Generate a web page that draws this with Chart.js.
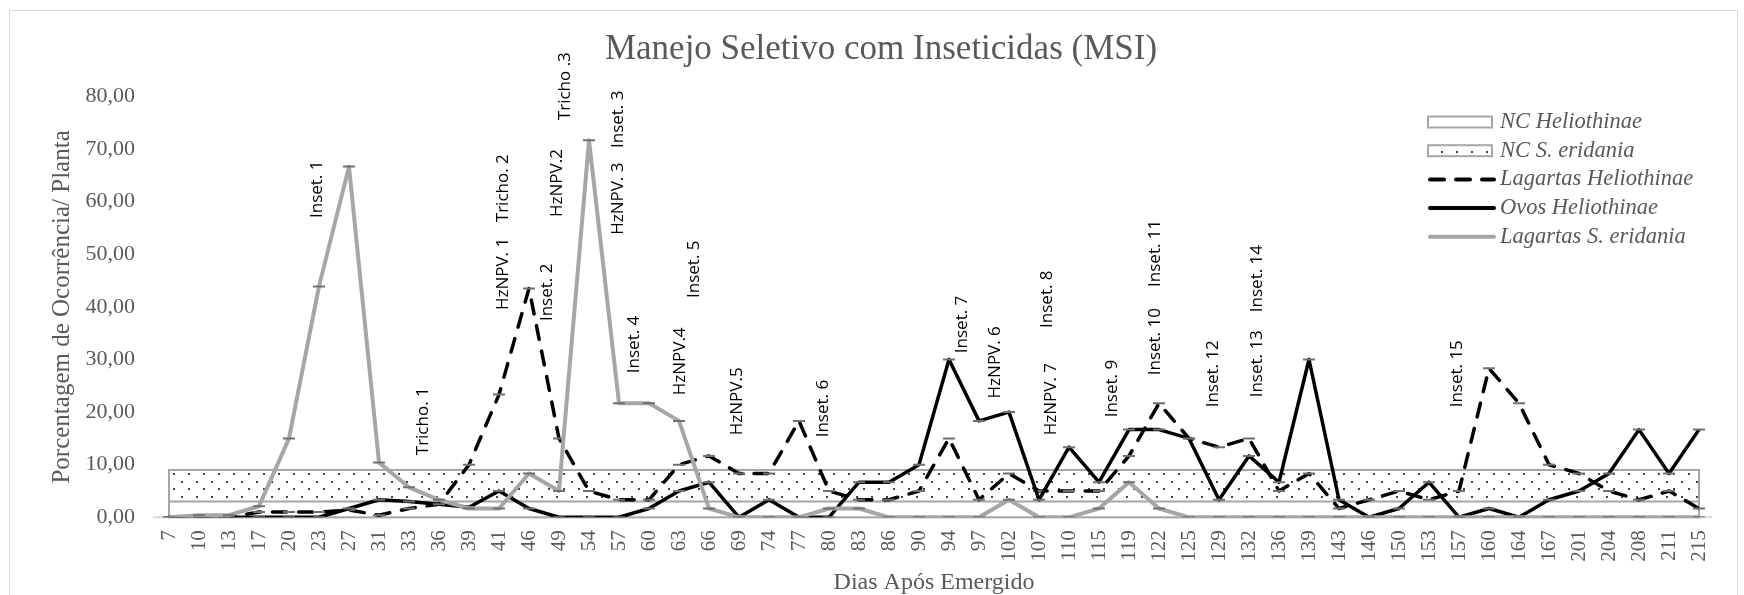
<!DOCTYPE html>
<html lang="pt">

<head>
    <meta charset="UTF-8">
    <title>Manejo Seletivo com Inseticidas (MSI)</title>
    <script src="https://cdn.jsdelivr.net/npm/chart.js"></script>
    <style>
        body {
            margin: 0;
            background: #fff;
        }

        #caixa {
            position: relative;
            width: 1744px;
            height: 595px;
            overflow: hidden;
        }

        #moldura {
            position: absolute;
            left: 9px;
            top: 10px;
            width: 1727px;
            height: 640px;
            border: 1px solid #d9d9d9;
        }

        #grafico {
            position: absolute;
            left: 0;
            top: 0;
        }
    </style>
</head>

<body>
    <div id="caixa">
        <div id="moldura"></div>
        <canvas id="grafico" width="1744" height="595"></canvas>
    </div>

    <script>
        // Dias após emergido (eixo x)
        const dias = ['7', '10', '13', '17', '20', '23', '27', '31', '33', '36', '39', '41', '46', '49', '54', '57',
            '60', '63', '66', '69', '74', '77', '80', '83', '86', '90', '94', '97', '102', '107', '110', '115', '119',
            '122', '125', '129', '132', '136', '139', '143', '146', '150', '153', '157', '160', '164', '167', '201',
            '204', '208', '211', '215'];

        // Nível de controle (faixas)
        const ncHeliothinae = [3, 3, 3, 3, 3, 3, 3, 3, 3, 3, 3, 3, 3, 3, 3, 3, 3, 3, 3, 3, 3, 3, 3, 3, 3, 3,
            3, 3, 3, 3, 3, 3, 3, 3, 3, 3, 3, 3, 3, 3, 3, 3, 3, 3, 3, 3, 3, 3, 3, 3, 3, 3];
        const ncSEridania = [9, 9, 9, 9, 9, 9, 9, 9, 9, 9, 9, 9, 9, 9, 9, 9, 9, 9, 9, 9, 9, 9, 9, 9, 9, 9,
            9, 9, 9, 9, 9, 9, 9, 9, 9, 9, 9, 9, 9, 9, 9, 9, 9, 9, 9, 9, 9, 9, 9, 9, 9, 9];

        // Séries medidas (%)
        const lagartasHeliothinae = [0, 0, 0, 1, 1, 1, 1.4, 0.4, 1.67, 2.5, 10, 23.33, 43.5, 15, 5, 3.33,
            3.33, 10, 11.67, 8.33, 8.33, 18.33, 5, 3.33, 3.33, 5, 15, 3.33, 8.33, 5, 5, 5, 11.67,
            21.67, 15, 13.33, 15, 5, 8.33, 1.67, 3.33, 5, 3.33, 5, 28.33, 21.67, 10, 8.33,
            5, 3.33, 5, 1.67];
        const ovosHeliothinae = [0, 0, 0, 0, 0, 0, 1.67, 3.33, 3, 2.5, 1.9, 5, 1.67, 0, 0, 0,
            1.67, 5, 6.67, 0, 3.33, 0, 0, 6.67, 6.67, 10, 30, 18.33, 20, 3.33, 13.33, 6.67, 16.67,
            16.67, 15, 3.33, 11.67, 6.67, 30, 3.33, 0, 1.67, 6.67, 0, 1.67, 0, 3.33, 5,
            8.33, 16.67, 8.33, 16.67];
        const lagartasSEridania = [0, 0.4, 0.4, 2.1, 15, 43.9, 66.67, 10.4, 5.7, 3.33, 1.67, 1.67, 8.33, 5, 71.67, 21.67,
            21.67, 18.33, 1.67, 0, 0, 0, 1.67, 1.67, 0, 0, 0, 0, 3.33, 0, 0, 1.67, 6.67,
            1.67, 0, 0, 0, 0, 0, 0, 0, 0, 0, 0, 0, 0, 0, 0,
            0, 0, 0, 0];

        // Ticks do eixo y
        const ticksY = [0, 10, 20, 30, 40, 50, 60, 70, 80];

        // Aplicações: texto, posição em dias (índice) e nível (%) onde começa o texto
        const aplicacoes = [
            ['Inset. 1', 4.93, 56.9],
            ['Tricho. 1', 8.48, 11.8],
            ['HzNPV. 1', 11.13, 39.4],
            ['Tricho. 2', 11.13, 56.1],
            ['Inset. 2', 12.59, 37.3],
            ['HzNPV.2', 12.93, 57.1],
            ['Tricho .3', 13.2, 75.5],
            ['HzNPV. 3', 14.97, 53.7],
            ['Inset. 3', 14.97, 70.2],
            ['Inset. 4', 15.5, 27.4],
            ['HzNPV.4', 17.03, 23.2],
            ['Inset. 5', 17.5, 41.7],
            ['HzNPV.5', 18.93, 15.6],
            ['Inset. 6', 21.8, 15.2],
            ['Inset. 7', 26.43, 31.2],
            ['HzNPV. 6', 27.53, 22.6],
            ['Inset. 8', 29.27, 36.0],
            ['HzNPV. 7', 29.4, 15.6],
            ['Inset. 9', 31.43, 19.0],
            ['Inset. 10', 32.87, 27.0],
            ['Inset. 11', 32.87, 43.8],
            ['Inset. 12', 34.8, 20.9],
            ['Inset. 13', 36.27, 22.8],
            ['Inset. 14', 36.27, 39.0],
            ['Inset. 15', 42.93, 20.9]
        ];

        const cinzaTexto = '#595959';
        const serifa = "'Liberation Serif', 'Times New Roman', serif";

        // padrão pontilhado da faixa NC S. eridania
        function padraoPontos() {
            const c = document.createElement('canvas');
            c.width = 15;
            c.height = 15;
            const g = c.getContext('2d');
            g.fillStyle = '#fff';
            g.fillRect(0, 0, 15, 15);
            g.fillStyle = '#444';
            g.fillRect(1, 1, 2, 2);
            g.fillRect(8, 8, 2, 2);
            return g.createPattern(c, 'repeat');
        }

        const pontos = padraoPontos();

        const dataGrafico = {
            labels: dias,
            datasets: [
                {
                    label: 'NC Heliothinae',
                    data: ncHeliothinae,
                    faixa: true,
                    backgroundColor: '#fff',
                    borderWidth: 0,
                    pointRadius: 0,
                    fill: 'origin',
                    order: 3
                },
                {
                    label: 'NC S. eridania',
                    data: ncSEridania,
                    faixa: true,
                    backgroundColor: pontos,
                    borderWidth: 0,
                    pointRadius: 0,
                    fill: 'origin',
                    order: 4
                },
                {
                    label: 'Lagartas Heliothinae',
                    data: lagartasHeliothinae,
                    borderColor: '#000',
                    borderWidth: 3.5,
                    borderDash: [14, 12],
                    borderCapStyle: 'round',
                    pointStyle: 'line',
                    pointRadius: 6,
                    pointBorderWidth: 2,
                    pointBorderColor: '#707070',
                    order: 2
                },
                {
                    label: 'Ovos Heliothinae',
                    data: ovosHeliothinae,
                    borderColor: '#000',
                    borderWidth: 3.5,
                    pointStyle: 'line',
                    pointRadius: 6,
                    pointBorderWidth: 2,
                    pointBorderColor: '#707070',
                    order: 1
                },
                {
                    label: 'Lagartas S. eridania',
                    data: lagartasSEridania,
                    borderColor: '#a6a6a6',
                    borderWidth: 4,
                    pointStyle: 'line',
                    pointRadius: 6,
                    pointBorderWidth: 2,
                    pointBorderColor: '#707070',
                    order: 0
                }
            ]
        };

        // desenha contorno das faixas, eixo, textos das aplicações e legenda
        const extras = {
            id: 'extras',
            beforeDatasetsDraw(chart) {
                const ctx = chart.ctx;
                const x = chart.scales.x;
                const y = chart.scales.y;
                const y0 = y.getPixelForValue(0);
                ctx.save();
                ctx.strokeStyle = '#d9d9d9';
                ctx.lineWidth = 2;
                ctx.beginPath();
                ctx.moveTo(x.getPixelForValue(0) - 16, y0);
                ctx.lineTo(x.getPixelForValue(dias.length - 1) + 13, y0);
                ctx.stroke();
                ctx.restore();
            },
            afterDatasetDraw(chart, args) {
                if (chart.data.datasets[args.index].label !== 'NC Heliothinae') return;
                const ctx = chart.ctx;
                const x = chart.scales.x;
                const y = chart.scales.y;
                const x0 = x.getPixelForValue(0);
                const x1 = x.getPixelForValue(dias.length - 1);
                const yZero = y.getPixelForValue(0);
                const yH = y.getPixelForValue(ncHeliothinae[0]);
                const yS = y.getPixelForValue(ncSEridania[0]);
                ctx.save();
                ctx.strokeStyle = '#a6a6a6';
                ctx.lineWidth = 2;
                ctx.strokeRect(x0, yS, x1 - x0, yZero - yS);
                ctx.beginPath();
                ctx.moveTo(x0, yH);
                ctx.lineTo(x1, yH);
                ctx.stroke();
                ctx.restore();
            },
            afterDraw(chart) {
                const ctx = chart.ctx;
                const x = chart.scales.x;
                const y = chart.scales.y;
                const area = chart.chartArea;

                // textos verticais das aplicações
                ctx.save();
                ctx.fillStyle = '#000';
                ctx.font = "17px 'Open Sans'";
                ctx.textAlign = 'left';
                ctx.textBaseline = 'middle';
                aplicacoes.forEach(function (a) {
                    ctx.save();
                    ctx.translate(x.getPixelForValue(a[1]), y.getPixelForValue(a[2]));
                    ctx.rotate(-Math.PI / 2);
                    ctx.fillText(a[0], 0, 0);
                    ctx.restore();
                });
                ctx.restore();

                // legenda
                const xCaixa = area.right - 271;
                const xTexto = area.right - 199;
                let yLinha = area.top + 25.5;
                ctx.save();
                ctx.font = 'italic 22.5px ' + serifa;
                ctx.textBaseline = 'middle';
                chart.data.datasets.forEach(function (ds) {
                    if (ds.faixa) {
                        ctx.fillStyle = ds.backgroundColor;
                        ctx.fillRect(xCaixa, yLinha - 5.5, 64, 11);
                        ctx.strokeStyle = '#a6a6a6';
                        ctx.lineWidth = 2;
                        ctx.setLineDash([]);
                        ctx.strokeRect(xCaixa, yLinha - 5.5, 64, 11);
                    } else {
                        ctx.strokeStyle = ds.borderColor;
                        ctx.lineWidth = 4;
                        ctx.lineCap = 'round';
                        ctx.setLineDash(ds.borderDash || []);
                        ctx.beginPath();
                        ctx.moveTo(xCaixa + 2, yLinha);
                        ctx.lineTo(xCaixa + 66, yLinha);
                        ctx.stroke();
                    }
                    ctx.fillStyle = cinzaTexto;
                    ctx.fillText(ds.label, xTexto, yLinha);
                    yLinha += 28.7;
                });
                ctx.restore();
            }
        };

        const configGrafico = {
            type: 'line',
            data: dataGrafico,
            plugins: [extras],
            options: {
                responsive: false,
                animation: false,
                devicePixelRatio: 1,
                layout: {
                    padding: { left: 63, right: 45, top: 0, bottom: 0 }
                },
                elements: {
                    line: { tension: 0, borderJoinStyle: 'round' }
                },
                plugins: {
                    legend: { display: false },
                    tooltip: { enabled: false },
                    title: {
                        display: true,
                        text: 'Manejo Seletivo com Inseticidas (MSI)',
                        color: cinzaTexto,
                        font: { family: serifa, size: 35, weight: 'normal', lineHeight: 1.2 },
                        padding: { top: 29, bottom: 25.5 }
                    }
                },
                scales: {
                    x: {
                        offset: false,
                        grid: { display: false, drawTicks: false },
                        border: { display: false },
                        ticks: {
                            autoSkip: false,
                            minRotation: 90,
                            maxRotation: 90,
                            padding: 13,
                            color: cinzaTexto,
                            font: { family: serifa, size: 21 }
                        },
                        title: {
                            display: true,
                            text: 'Dias Após Emergido',
                            color: cinzaTexto,
                            font: { family: serifa, size: 24, lineHeight: 1 },
                            padding: 0
                        },
                        afterFit: function (scale) {
                            scale.height = 77.7;
                        }
                    },
                    y: {
                        min: 0,
                        max: 80,
                        grid: { display: false, drawTicks: false },
                        border: { display: false },
                        afterBuildTicks: function (scale) {
                            scale.ticks = ticksY.map(v => ({ value: v }));
                        },
                        ticks: {
                            padding: 34,
                            color: cinzaTexto,
                            font: { family: serifa, size: 22 },
                            callback: v => v.toFixed(2).replace('.', ',')
                        },
                        title: {
                            display: true,
                            text: 'Porcentagem de Ocorrência/ Planta',
                            color: cinzaTexto,
                            font: { family: serifa, size: 25, lineHeight: 1.2 },
                            padding: { top: -16, bottom: 0 }
                        },
                        afterFit: function (scale) {
                            scale.width = 106;
                        }
                    }
                }
            }
        };

        const grafico = new Chart(
            document.getElementById('grafico'),
            configGrafico
        );
    </script>
</body>

</html>
